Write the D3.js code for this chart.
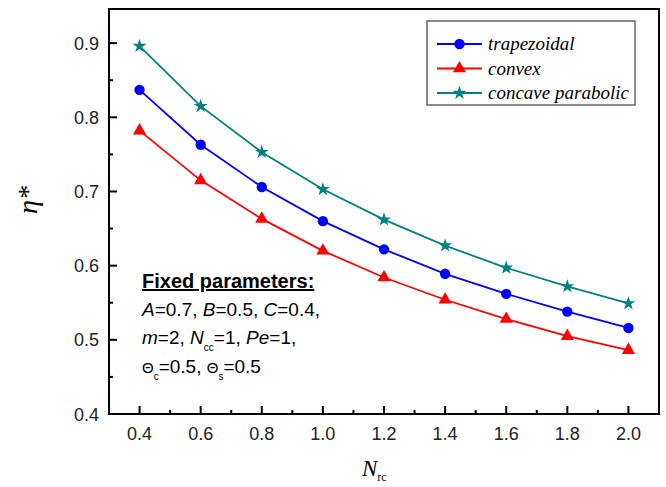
<!DOCTYPE html>
<html><head><meta charset="utf-8">
<script src="https://cdn.jsdelivr.net/npm/d3@7"></script>
<style>body{margin:0;background:#fff}svg{display:block}</style>
</head><body>
<script>
const xValues = [0.4, 0.6, 0.8, 1.0, 1.2, 1.4, 1.6, 1.8, 2.0];
const trapezoidal = [0.837, 0.763, 0.706, 0.660, 0.622, 0.589, 0.562, 0.538, 0.516];
const convex = [0.782, 0.715, 0.663, 0.620, 0.584, 0.554, 0.528, 0.505, 0.486];
const concaveParabolic = [0.896, 0.815, 0.753, 0.703, 0.662, 0.627, 0.597, 0.572, 0.549];
const seriesNames = ["trapezoidal", "convex", "concave parabolic"];
const xTicks = [0.4, 0.6, 0.8, 1.0, 1.2, 1.4, 1.6, 1.8, 2.0];
const yTicks = [0.4, 0.5, 0.6, 0.7, 0.8, 0.9];

const W = 666, H = 487;
const m = {left: 109, right: 659, top: 9, bottom: 414};
const svg = d3.select("body").append("svg").attr("width", W).attr("height", H);
const x = d3.scaleLinear().domain([0.3, 2.1]).range([m.left, m.right]);
const y = d3.scaleLinear().domain([0.4, 0.946]).range([m.bottom, m.top]);

// frame
svg.append("rect").attr("x", m.left).attr("y", m.top).attr("width", m.right - m.left).attr("height", m.bottom - m.top)
  .attr("fill", "none").attr("stroke", "#000").attr("stroke-width", 2);

const ff = "Arial, Liberation Sans, sans-serif";
// x axis ticks (inward)
const xMinor = d3.range(0.5, 2.05, 0.2);
const gx = svg.append("g").attr("transform", `translate(0,${m.bottom})`);
gx.selectAll("line.maj").data(xTicks).join("line").attr("x1", d => x(d)).attr("x2", d => x(d)).attr("y1", 0).attr("y2", -8).attr("stroke", "#000").attr("stroke-width", 2);
gx.selectAll("line.min").data(xMinor).join("line").attr("x1", d => x(d)).attr("x2", d => x(d)).attr("y1", 0).attr("y2", -4).attr("stroke", "#000").attr("stroke-width", 2);
gx.selectAll("text").data(xTicks).join("text").attr("x", d => x(d)).attr("y", 26).attr("text-anchor", "middle")
  .attr("font-family", ff).attr("font-size", 18).attr("fill", "#222").text(d => d.toFixed(1));

const yMinor = [0.45, 0.55, 0.65, 0.75, 0.85];
const gy = svg.append("g").attr("transform", `translate(${m.left},0)`);
gy.selectAll("line.maj").data(yTicks).join("line").attr("y1", d => y(d)).attr("y2", d => y(d)).attr("x1", 0).attr("x2", 8).attr("stroke", "#000").attr("stroke-width", 2);
gy.selectAll("line.min").data(yMinor).join("line").attr("y1", d => y(d)).attr("y2", d => y(d)).attr("x1", 0).attr("x2", 4).attr("stroke", "#000").attr("stroke-width", 2);
gy.selectAll("text").data(yTicks).join("text").attr("x", -10).attr("y", d => y(d) + 6.5).attr("text-anchor", "end")
  .attr("font-family", ff).attr("font-size", 18).attr("fill", "#222").text(d => d.toFixed(1));

// axis titles
svg.append("text").attr("transform", "translate(37,200) rotate(-90)").attr("text-anchor", "middle")
  .attr("font-family", "Liberation Serif, Times New Roman, serif").attr("font-style", "italic").attr("font-size", 28).text("η*");
const xl = svg.append("text").attr("x", 362).attr("y", 476).attr("font-family", "Liberation Serif, Times New Roman, serif").attr("font-size", 23);
xl.append("tspan").attr("font-style", "italic").text("N");
xl.append("tspan").attr("font-size", 12).attr("dy", 5).text("rc");

// series
const series = [
  {name: seriesNames[0], values: trapezoidal, color: "#0000FF", shape: d3.symbolCircle, size: 85},
  {name: seriesNames[1], values: convex, color: "#FF0000", shape: d3.symbolTriangle, size: 75},
  {name: seriesNames[2], values: concaveParabolic, color: "#008080", shape: d3.symbolStar, size: 60}
];
const line = d3.line().x((d, i) => x(xValues[i])).y(d => y(d));
series.forEach(s => {
  svg.append("path").attr("d", line(s.values)).attr("fill", "none").attr("stroke", s.color).attr("stroke-width", 1.8);
  svg.selectAll(null).data(s.values).join("path")
    .attr("transform", (d, i) => `translate(${x(xValues[i])},${y(d)})`)
    .attr("d", d3.symbol().type(s.shape).size(s.size)).attr("fill", s.color);
});

// legend
const lg = svg.append("g");
lg.append("rect").attr("x", 427).attr("y", 21).attr("width", 208).attr("height", 84).attr("fill", "#fff").attr("stroke", "#666").attr("stroke-width", 1.5);
series.forEach((s, i) => {
  const yy = 44 + i * 24.5;
  lg.append("line").attr("x1", 437).attr("x2", 482).attr("y1", yy).attr("y2", yy).attr("stroke", s.color).attr("stroke-width", 1.8);
  lg.append("path").attr("transform", `translate(459.5,${yy})`).attr("d", d3.symbol().type(s.shape).size(s.size)).attr("fill", s.color);
  lg.append("text").attr("x", 488).attr("y", yy + 6).attr("font-family", "Liberation Serif, Times New Roman, serif")
    .attr("font-style", "italic").attr("font-size", 19).text(s.name);
});

// annotation
svg.append("text").attr("x", 142).attr("y", 288).attr("font-family", ff).attr("font-weight", "bold").attr("font-size", 20)
  .attr("text-decoration", "underline").text("Fixed parameters:");
const fs = 19;
const t1 = svg.append("text").attr("x", 142).attr("y", 316).attr("font-family", ff).attr("font-size", fs);
t1.append("tspan").attr("font-style", "italic").text("A");
t1.append("tspan").text("=0.7, ");
t1.append("tspan").attr("font-style", "italic").text("B");
t1.append("tspan").text("=0.5, ");
t1.append("tspan").attr("font-style", "italic").text("C");
t1.append("tspan").text("=0.4,");
const t2 = svg.append("text").attr("x", 142).attr("y", 344).attr("font-family", ff).attr("font-size", fs);
t2.append("tspan").attr("font-style", "italic").text("m");
t2.append("tspan").text("=2, ");
t2.append("tspan").attr("font-style", "italic").text("N");
t2.append("tspan").attr("font-size", 10).attr("dy", 7).text("cc");
t2.append("tspan").attr("dy", -7).text("=1, ");
t2.append("tspan").attr("font-style", "italic").text("Pe");
t2.append("tspan").text("=1,");
const t3 = svg.append("text").attr("x", 142).attr("y", 373).attr("font-family", ff).attr("font-size", fs);
t3.append("tspan").attr("font-size", 15).text("Θ");
t3.append("tspan").attr("font-size", 10).attr("dy", 7).text("c");
t3.append("tspan").attr("dy", -7).text("=0.5, ");
t3.append("tspan").attr("font-size", 15).text("Θ");
t3.append("tspan").attr("font-size", 10).attr("dy", 7).text("s");
t3.append("tspan").attr("dy", -7).text("=0.5");
</script>
</body></html>
